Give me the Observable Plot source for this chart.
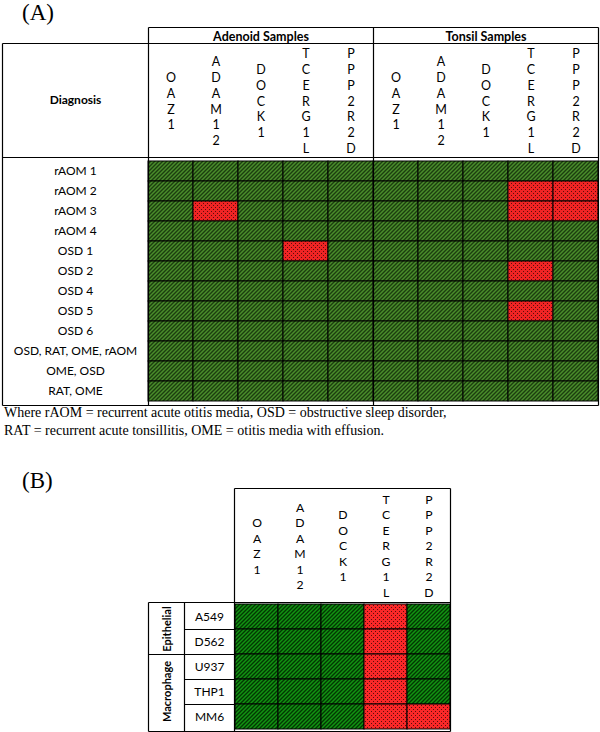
<!DOCTYPE html>
<html><head><meta charset="utf-8">
<script src="https://cdn.jsdelivr.net/npm/d3@7"></script>
<script src="https://cdn.jsdelivr.net/npm/@observablehq/plot@0.6"></script>
<style>
body{margin:0;background:#fff;width:600px;height:732px;position:relative;overflow:hidden;font-family:Lato,sans-serif}
.lab{position:absolute;z-index:5;font-family:"Liberation Serif","Times New Roman",serif;font-size:23px;line-height:24px;left:22px;color:#000}
#note{position:absolute;z-index:5;left:4px;top:404px;font-family:"Liberation Serif","Times New Roman",serif;font-size:14px;line-height:18px;color:#000;white-space:nowrap}
#a,#b{position:absolute;left:0}
#a{top:0}
#b{top:460px}
</style></head><body>
<svg width="0" height="0" style="position:absolute"><defs>
<pattern id="greenA" patternUnits="userSpaceOnUse" width="4" height="4">
<rect width="4" height="4" fill="#4a8e2b"/>
<path d="M-1,1 l2,-2 M0,4 l4,-4 M3,5 l2,-2" stroke="#1c3e0f" stroke-width="1.4"/>
</pattern>
<pattern id="greenB" patternUnits="userSpaceOnUse" width="4" height="4">
<rect width="4" height="4" fill="#129412"/>
<path d="M-1,1 l2,-2 M0,4 l4,-4 M3,5 l2,-2" stroke="#023802" stroke-width="1.4"/>
</pattern>
<pattern id="redA" patternUnits="userSpaceOnUse" width="4" height="4">
<rect width="4" height="4" fill="#f02424"/>
<rect x="1" y="1" width="1" height="1" fill="#5a0c0c"/>
<rect x="3" y="3" width="1" height="1" fill="#5a0c0c"/>
</pattern>
<pattern id="redB" patternUnits="userSpaceOnUse" width="4" height="4">
<rect width="4" height="4" fill="#fa2828"/>
<rect x="1" y="1" width="1" height="1" fill="#5a0c0c"/>
<rect x="3" y="3" width="1" height="1" fill="#5a0c0c"/>
</pattern>
</defs></svg>
<div class="lab" style="top:1px">(A)</div>
<div id="a"></div>
<div id="note">Where rAOM = recurrent acute otitis media, OSD = obstructive sleep disorder,<br>RAT = recurrent acute tonsillitis, OME = otitis media with effusion.</div>
<div class="lab" style="top:469px">(B)</div>
<div id="b"></div>
<script>
// ---- data ----
const genes = ["OAZ1", "ADAM12", "DOCK1", "TCERG1L", "PPP2R2D"];
const tissues = ["Adenoid Samples", "Tonsil Samples"];
const diagnoses = ["rAOM 1", "rAOM 2", "rAOM 3", "rAOM 4", "OSD 1", "OSD 2", "OSD 4", "OSD 5", "OSD 6", "OSD, RAT, OME, rAOM", "OME, OSD", "RAT, OME"];
// 1 = red (dotted), 0 = green (hatched)
const adenoidStatus = [
  [0,0,0,0,0],[0,0,0,0,0],[0,1,0,0,0],[0,0,0,0,0],[0,0,0,1,0],[0,0,0,0,0],
  [0,0,0,0,0],[0,0,0,0,0],[0,0,0,0,0],[0,0,0,0,0],[0,0,0,0,0],[0,0,0,0,0]
];
const tonsilStatus = [
  [0,0,0,0,0],[0,0,0,1,1],[0,0,0,1,1],[0,0,0,0,0],[0,0,0,0,0],[0,0,0,1,0],
  [0,0,0,0,0],[0,0,0,1,0],[0,0,0,0,0],[0,0,0,0,0],[0,0,0,0,0],[0,0,0,0,0]
];
const cellLines = ["A549", "D562", "U937", "THP1", "MM6"];
const cellGroups = ["Epithelial", "Macrophage"];
const cellLineGroup = ["Epithelial", "Epithelial", "Macrophage", "Macrophage", "Macrophage"];
const cellLineStatus = [
  [0,0,0,1,0],[0,0,0,1,0],[0,0,0,1,0],[0,0,0,1,0],[0,0,0,1,1]
];

// ---- build tables ----
const key = (t, g) => t + "|" + g;
const colsA = tissues.flatMap(t => genes.map(g => key(t, g)));
const cellsA = diagnoses.flatMap((d, i) => genes.flatMap((g, j) => [
  {row: d, col: key(tissues[0], g), v: adenoidStatus[i][j]},
  {row: d, col: key(tissues[1], g), v: tonsilStatus[i][j]}
]));
const cellsB = cellLines.flatMap((c, i) => genes.map((g, j) => ({row: c, col: g, v: cellLineStatus[i][j]})));
const stack = s => s.split("").join("\n");
const font = "Lato, 'Open Sans', sans-serif";

const plotA = Plot.plot({
  width: 600, height: 406, marginTop: 157, marginLeft: 148, marginRight: 2, marginBottom: 1,
  x: {type: "band", domain: colsA, padding: 0, axis: null},
  y: {type: "band", domain: diagnoses, padding: 0, axis: null},
  color: {type: "identity"},
  style: {fontFamily: font, background: "white", color: "black", overflow: "visible"},
  marks: [
    Plot.cell(cellsA, {x: "col", y: "row", fill: d => d.v ? "url(#redA)" : "url(#greenA)", stroke: "#000", strokeWidth: 1, inset: 0}),
    Plot.text(colsA, {x: d => d, text: d => stack(d.split("|")[1]), frameAnchor: "top", dy: -57, lineAnchor: "middle", lineHeight: 1.27, fontSize: 12.5}),
    Plot.text(tissues, {x: t => key(t, genes[2]), text: d => d, frameAnchor: "top", dy: -121, lineAnchor: "middle", fontWeight: "bold", fontSize: 12.5}),
    Plot.text(["Diagnosis"], {text: d => d, frameAnchor: "top-left", dx: -73, dy: -57, lineAnchor: "middle", textAnchor: "middle", fontWeight: "bold", fontSize: 12}),
    Plot.text(diagnoses, {y: d => d, text: d => d, frameAnchor: "left", dx: -73, textAnchor: "middle", fontSize: 12})
  ]
});
document.getElementById("a").append(plotA);

(function borderA(svg) {
  const xs = svg.scale("x"), ys = svg.scale("y");
  const [x0, x1] = xs.range, [y0, y1] = ys.range;
  const xT = xs.apply(key(tissues[1], genes[0]));
  const g = d3.select(svg).append("g").attr("stroke", "#000").attr("stroke-width", 1.2).attr("fill", "none").attr("transform", "translate(0.5,0.5)");
  const line = (a, b, c, d) => g.append("line").attr("x1", a).attr("y1", b).attr("x2", c).attr("y2", d);
  const hTop = 27, hMid = 43, left = 2;
  line(x0, hTop, x1, hTop); line(left, hMid, x1, hMid);
  line(x0, hTop, x0, y1); line(x1, hTop, x1, y1); line(xT, hTop, xT, y1);
  line(left, hMid, left, y1); line(left, y0, x1, y0); line(left, y1, x1, y1);
})(plotA);

const plotB = Plot.plot({
  width: 600, height: 272, marginTop: 142, marginLeft: 234, marginRight: 150, marginBottom: 1,
  x: {type: "band", domain: genes, padding: 0, axis: null},
  y: {type: "band", domain: cellLines, padding: 0, axis: null},
  color: {type: "identity"},
  style: {fontFamily: font, background: "white", color: "black", overflow: "visible"},
  marks: [
    Plot.cell(cellsB, {x: "col", y: "row", fill: d => d.v ? "url(#redB)" : "url(#greenB)", stroke: "#000", strokeWidth: 1, inset: 0}),
    Plot.text(genes, {x: d => d, text: d => stack(d), frameAnchor: "top", dy: -57, lineAnchor: "middle", lineHeight: 1.27, fontSize: 12.2}),
    Plot.text(cellLines, {y: d => d, text: d => d, frameAnchor: "left", dx: -25, textAnchor: "middle", fontSize: 12})
  ]
});
document.getElementById("b").append(plotB);

(function borderB(svg) {
  const xs = svg.scale("x"), ys = svg.scale("y");
  const [x0, x1] = xs.range, [y0, y1] = ys.range;
  const bw = ys.bandwidth;
  const hTop = 28, left = 148, mid = 184;
  const g = d3.select(svg).append("g").attr("stroke", "#000").attr("stroke-width", 1.2).attr("fill", "none").attr("transform", "translate(0.5,0.5)");
  const line = (a, b, c, d) => g.append("line").attr("x1", a).attr("y1", b).attr("x2", c).attr("y2", d);
  line(x0, hTop, x1, hTop); line(x0, hTop, x0, y1); line(x1, hTop, x1, y1);
  line(left, y0, x1, y0); line(left, y1, x1, y1); line(left, y0, left, y1); line(mid, y0, mid, y1);
  cellLines.forEach((c, i) => { if (i > 0) line(mid, ys.apply(c), x0, ys.apply(c)); });
  cellGroups.forEach((grp, k) => {
    const rows = cellLines.filter((c, i) => cellLineGroup[i] === grp);
    const top = ys.apply(rows[0]), bot = ys.apply(rows[rows.length - 1]) + bw;
    if (k > 0) line(left, top, mid, top);
    const cy = (top + bot) / 2, cx = (left + mid) / 2;
    d3.select(svg).append("text").attr("transform", `translate(${cx + 5},${cy}) rotate(-90)`)
      .attr("text-anchor", "middle").attr("font-family", font).attr("font-weight", "bold").attr("font-size", 11).attr("fill", "#000").text(grp);
  });
})(plotB);
</script>
</body></html>
